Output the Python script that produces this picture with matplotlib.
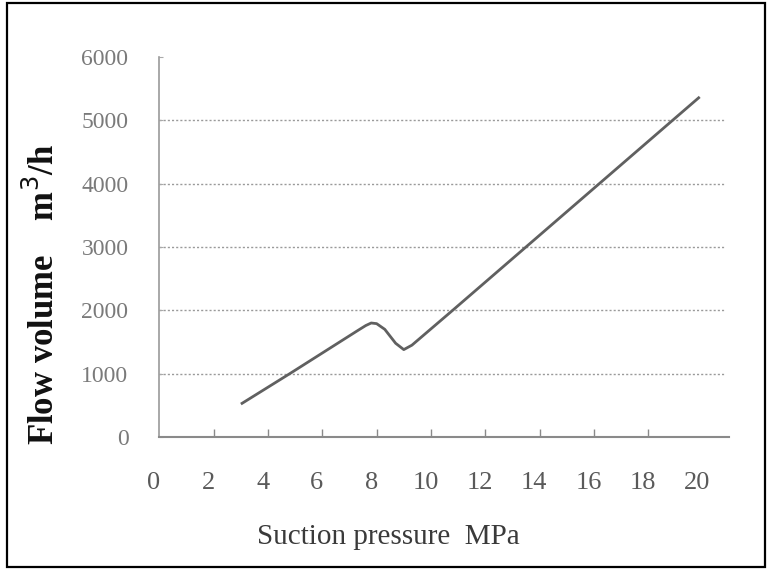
import matplotlib
matplotlib.use("Agg")
import matplotlib.pyplot as plt
from matplotlib.patches import Rectangle
import numpy as np

# Data
pressure = [3.2, 5.0, 7.5, 7.8, 8.0, 8.2, 8.5, 8.9, 9.2, 9.5, 11.0, 13.7, 16.4, 19.1, 20.1]
flow = [520, 1000, 1680, 1760, 1800, 1790, 1700, 1480, 1380, 1450, 2000, 3000, 4000, 5000, 5370]
x_ticks = [0, 2, 4, 6, 8, 10, 12, 14, 16, 18, 20]
y_ticks = [0, 1000, 2000, 3000, 4000, 5000, 6000]
grid_levels = [1000, 2000, 3000, 4000, 5000]

W, H = 772, 572
fig = plt.figure(figsize=(W / 100, H / 100), dpi=100)
serif = ["Liberation Serif", "DejaVu Serif"]

# axes: left at px 154 (x=0), right at px 729; bottom px 437, top px 57
ax = fig.add_axes([154 / W, (H - 437) / H, (729 - 154) / W, (437 - 57) / H])
ax.set_xlim(0, (729 - 154) / 27.15)
ax.set_ylim(0, 6000)
x_left = (159 - 154) / 27.15
x_grid_right = (724 - 154) / 27.15

for s in ["top", "right"]:
    ax.spines[s].set_visible(False)
ax.spines["left"].set_position(("data", x_left))
ax.spines["left"].set_color("#9a9a9a")
ax.spines["bottom"].set_color("#8a8a8a")
ax.spines["left"].set_linewidth(1.2)
ax.spines["bottom"].set_linewidth(1.5)
ax.spines["bottom"].set_bounds(x_left, ax.get_xlim()[1])

ax.hlines(grid_levels, x_left, x_grid_right, colors="#9a9a9a",
          linestyles=(0, (1.5, 1.5)), linewidth=1.0, zorder=1)

ax.plot(pressure, flow, color="#606060", linewidth=2.0, zorder=3,
        solid_joinstyle="round", solid_capstyle="butt")

ax.set_xticks(x_ticks)
ax.set_xticklabels([str(v) for v in x_ticks], fontsize=19, family=serif, color="#5a5a5a")
ax.tick_params(axis="x", which="major", length=0, pad=25)
ax.set_xticks(np.array(x_ticks[1:-1]) + 0.2, minor=True)
ax.tick_params(axis="x", which="minor", direction="in", length=6, color="#8a8a8a", width=1)

ax.set_yticks(y_ticks)
ax.set_yticklabels([str(v) for v in y_ticks], fontsize=17, family=serif, color="#7a7a7a")
ax.tick_params(axis="y", which="major", direction="in", length=3, color="#aaaaaa", pad=22)

fig.text(388 / W, 1 - 537 / H, "Suction pressure  MPa", ha="center", va="center",
         fontsize=21, family=serif, color="#3a3a3a")
fig.text(44 / W, 1 - 294 / H, "Flow volume    m$^3$/h", ha="center", va="center",
         rotation=90, fontsize=25, fontweight="bold", family=serif, color="#111111")

fig.patches.append(Rectangle((7 / W, 1 - 567 / H), (765 - 7) / W, (567 - 3) / H,
                             transform=fig.transFigure, fill=False,
                             edgecolor="black", linewidth=1.6))

fig.savefig("out.png", dpi=100)
